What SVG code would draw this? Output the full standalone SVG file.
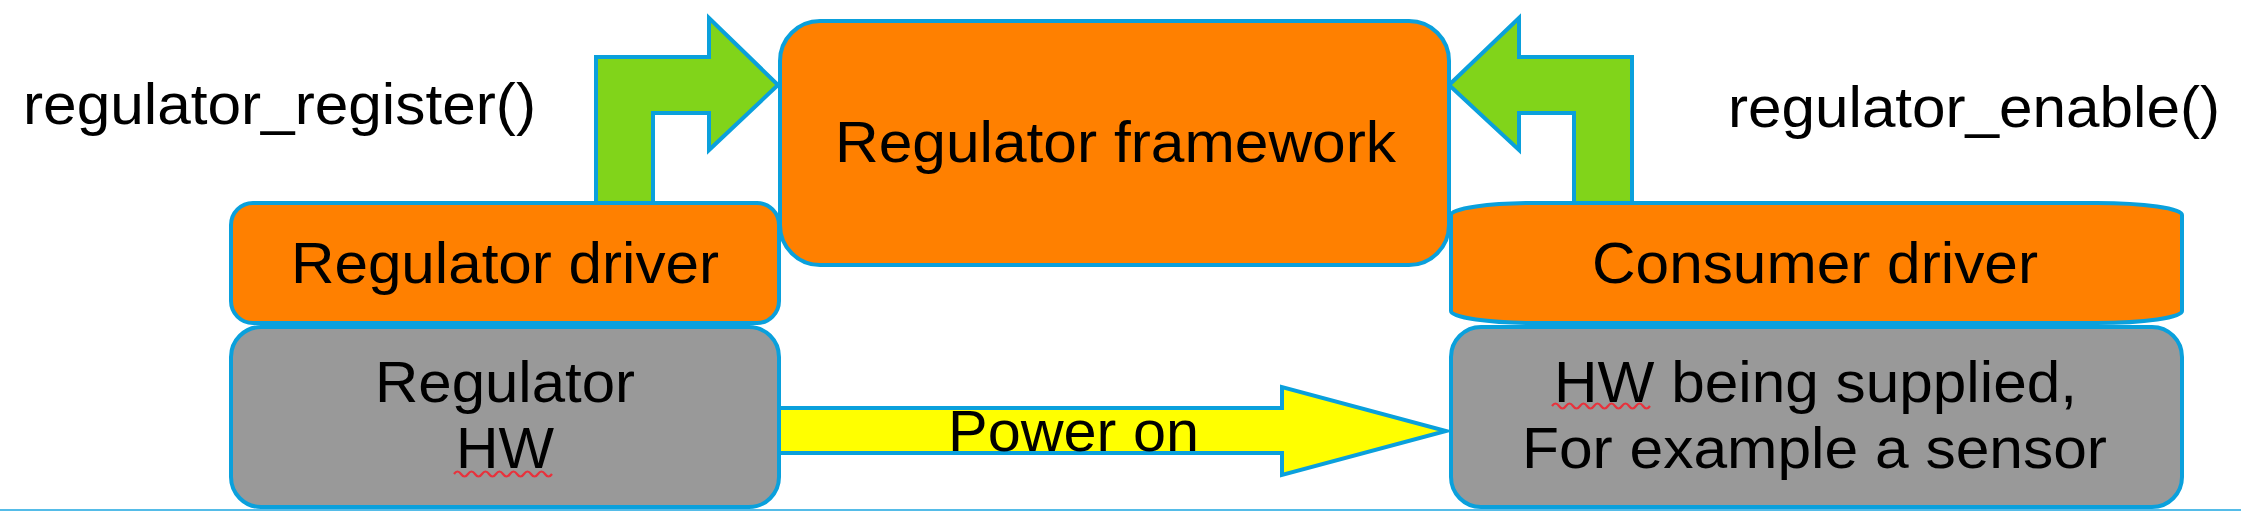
<svg xmlns="http://www.w3.org/2000/svg" width="2241" height="511" viewBox="0 0 2241 511">
<style>
.box{stroke:#0aa0dc;stroke-width:4}
.orange{fill:#ff8000}
.gray{fill:#999999}
.green{fill:#81d41a;stroke:#0aa0dc;stroke-width:4;stroke-linejoin:miter}
.yellow{fill:#ffff00;stroke:#0aa0dc;stroke-width:4;stroke-linejoin:miter}
text{font-family:"Liberation Sans",Arial,sans-serif;font-size:57px;fill:#000}
.sq{fill:none;stroke:#e8323c;stroke-width:2.2}
</style>
<rect x="0" y="0" width="2241" height="511" fill="#ffffff"/>
<line x1="0" y1="510" x2="2241" y2="510" stroke="#1ca6e0" stroke-width="1.5"/>
<g id="connectors">
<polygon class="green" points="596,205 596,57 709,57 709,18 778,85 709,150 709,113 653,113 653,205"/>
<polygon class="green" points="1632,205 1632,57 1519,57 1519,18 1449,85 1519,150 1519,113 1574,113 1574,205"/>
<polygon class="yellow" points="776,408 1282,408 1282,387 1446,431 1282,475 1282,453 776,453"/>
</g>
<text x="23" y="124" textLength="513" lengthAdjust="spacingAndGlyphs">regulator_register()</text>
<text x="1728" y="127" textLength="492" lengthAdjust="spacingAndGlyphs">regulator_enable()</text>
<g id="regulator-driver">
<rect class="box orange" x="231" y="203" width="548" height="120" rx="22" ry="22"/>
<text x="291" y="283" textLength="428" lengthAdjust="spacingAndGlyphs">Regulator driver</text>
</g>
<g id="regulator-framework">
<rect class="box orange" x="780" y="21" width="669" height="244" rx="40" ry="40"/>
<text x="835" y="162" textLength="561" lengthAdjust="spacingAndGlyphs">Regulator framework</text>
</g>
<g id="consumer-driver">
<rect class="box orange" x="1451" y="203" width="731" height="120" rx="85" ry="12"/>
<text x="1592" y="283" textLength="446" lengthAdjust="spacingAndGlyphs">Consumer driver</text>
</g>
<g id="regulator-hw">
<rect class="box gray" x="231" y="327" width="548" height="180" rx="30" ry="30"/>
<text x="375" y="402" textLength="260" lengthAdjust="spacingAndGlyphs">Regulator</text>
<text x="456" y="468" textLength="98" lengthAdjust="spacingAndGlyphs">HW</text>
<path class="sq" d="M454 474 q3.5 -5 7 0 t7 0 t7 0 t7 0 t7 0 t7 0 t7 0 t7 0 t7 0 t7 0 t7 0 t7 0 t7 0 t7 0"/>
</g>
<g id="consumer-hw">
<rect class="box gray" x="1451" y="327" width="731" height="180" rx="30" ry="30"/>
<text x="1554" y="402" textLength="523" lengthAdjust="spacingAndGlyphs">HW being supplied,</text>
<text x="1522" y="468" textLength="585" lengthAdjust="spacingAndGlyphs">For example a sensor</text>
<path class="sq" d="M1552 406 q3.5 -5 7 0 t7 0 t7 0 t7 0 t7 0 t7 0 t7 0 t7 0 t7 0 t7 0 t7 0 t7 0 t7 0 t7 0"/>
</g>
<g id="power-on-label">
<text x="948" y="451" textLength="251" lengthAdjust="spacingAndGlyphs">Power on</text>
</g>
</svg>
